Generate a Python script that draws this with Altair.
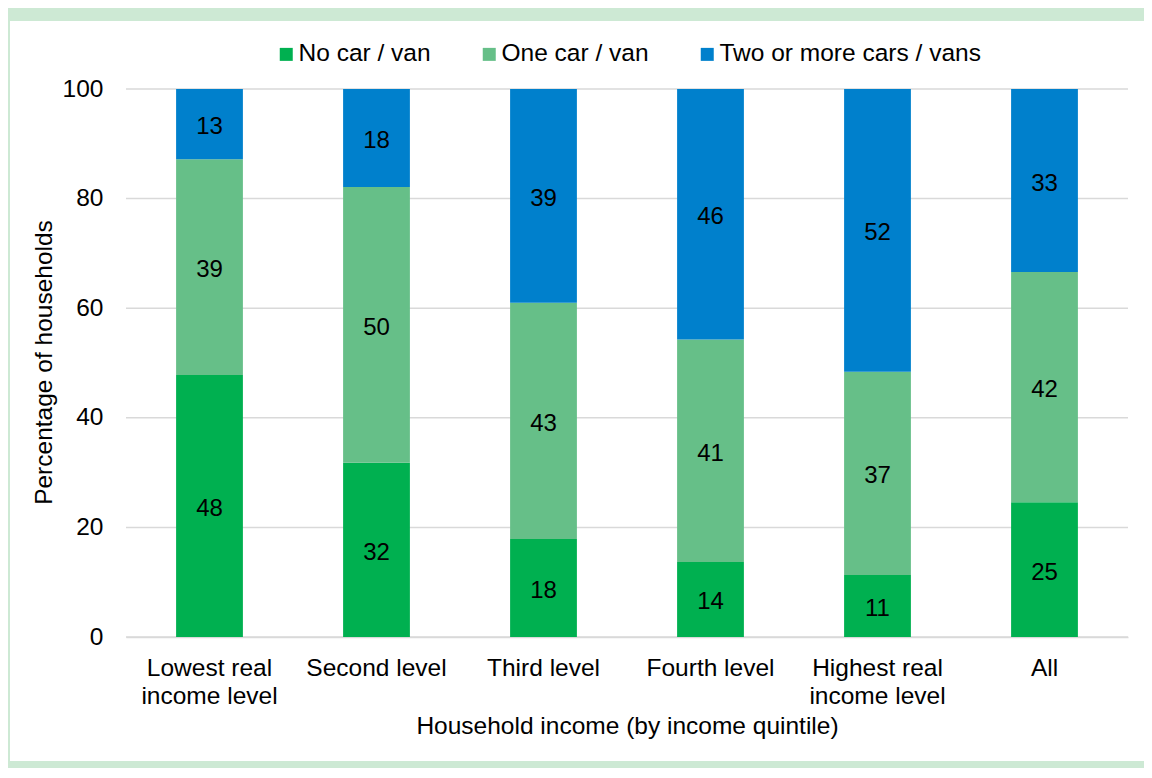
import altair as alt
import pandas as pd

categories = ["Lowest real income level", "Second level", "Third level",
              "Fourth level", "Highest real income level", "All"]
label_lines = [["Lowest real", "income level"], ["Second level"], ["Third level"],
               ["Fourth level"], ["Highest real", "income level"], ["All"]]
series = ["No car / van", "One car / van", "Two or more cars / vans"]
no_car = [47.8, 31.8, 17.9, 13.7, 11.3, 24.6]
one_car = [39.4, 50.3, 43.1, 40.6, 37.1, 42.0]
two_plus = [12.8, 17.9, 39.0, 45.7, 51.6, 33.4]
y_ticks = [0, 20, 40, 60, 80, 100]
colors = ["#00B050", "#66BF88", "#0080CC"]

rows = []
for i, c in enumerate(categories):
    for k, (s, vals) in enumerate(zip(series, [no_car, one_car, two_plus])):
        rows.append({"category": c, "series": s, "order": k, "value": vals[i]})
df = pd.DataFrame(rows)

FONT = "Liberation Sans"
FRAME = "#CDE9D4"
FS = 24.5

expr_parts = []
for c, lines in zip(categories, label_lines):
    expr_parts.append(f"datum.label == '{c}' ? {lines!r}")
label_expr = " : ".join(expr_parts) + " : datum.label"

base = alt.Chart(df).transform_stack(
    stack="value", groupby=["category"], sort=[alt.SortField("order")], as_=["y0", "y1"]
).transform_calculate(mid="(datum.y0 + datum.y1) / 2")

x_enc = alt.X("category:N", sort=categories, title="Household income (by income quintile)",
              scale=alt.Scale(paddingInner=0.6, paddingOuter=0.3),
              axis=alt.Axis(labelAngle=0, ticks=False, labelPadding=19, labelLineHeight=28,
                            labelExpr=label_expr, labelFontSize=FS, labelColor="#000000",
                            labelFont=FONT, domainColor="#D9D9D9", domainWidth=1.5,
                            titleFontSize=FS, titleFont=FONT, titleFontWeight="normal",
                            titleColor="#000000", titleY=89, titleBaseline="middle",
                            titleAnchor="middle", labelLimit=300))

y_axis = alt.Axis(values=y_ticks, domain=False, ticks=False, grid=False,
                  labelPadding=23, labelFontSize=FS, labelFont=FONT,
                  labelColor="#000000",
                  titleFontSize=FS, titleFont=FONT, titleFontWeight="normal",
                  titleColor="#000000", titleX=-82, titleY=273, titleAngle=270,
                  titleAlign="center", titleBaseline="middle")
y_scale = alt.Scale(domain=[0, 100], nice=False)

grid = alt.Chart(pd.DataFrame({"tick": y_ticks})).mark_rule(
    color="#D9D9D9", strokeWidth=1.5
).encode(
    y=alt.Y("tick:Q", title="Percentage of households", scale=y_scale, axis=y_axis),
    x=alt.value(0), x2=alt.value(1002),
)

bars = base.mark_bar().encode(
    x=x_enc,
    y=alt.Y("y0:Q", title="Percentage of households", scale=y_scale, axis=y_axis),
    y2="y1:Q",
    color=alt.Color("series:N", sort=series,
                    scale=alt.Scale(domain=series, range=colors),
                    legend=alt.Legend(title=None, orient="none", direction="horizontal",
                                      columns=3, columnPadding=46, legendX=148, legendY=-47,
                                      symbolType="square", symbolSize=169, symbolStrokeWidth=0,
                                      labelFontSize=24.5, labelFont=FONT, labelColor="#000000",
                                      labelOffset=0, labelLimit=400)),
    order=alt.Order("order:Q"),
)

texts = base.mark_text(fontSize=24, font=FONT, color="#000000", baseline="middle", dy=3).encode(
    x=alt.X("category:N", sort=categories),
    y=alt.Y("mid:Q"),
    text=alt.Text("value:Q", format=".0f"),
)

one = alt.Data(values=[{"p": 1}])
top_strip = alt.Chart(one).mark_rect(color=FRAME).encode(
    x=alt.value(-118), x2=alt.value(1018), y=alt.value(-81), y2=alt.value(-68))
left_strip = alt.Chart(one).mark_rect(color=FRAME).encode(
    x=alt.value(-118), x2=alt.value(-116), y=alt.value(-81), y2=alt.value(679))
bottom_strip = alt.Chart(one).mark_rect(color=FRAME).encode(
    x=alt.value(-118), x2=alt.value(1018), y=alt.value(672), y2=alt.value(679))

chart = alt.layer(grid, bars, texts, top_strip, left_strip, bottom_strip).properties(
    width=1002, height=548,
    background="#FFFFFF",
    padding={"left": 118, "top": 81, "right": 16, "bottom": 131},
    autosize=alt.AutoSizeParams(type="none"),
).configure_view(stroke=None).configure_axis(zindex=1)

chart.save("out.html", embed_options={"renderer": "svg", "actions": False})
